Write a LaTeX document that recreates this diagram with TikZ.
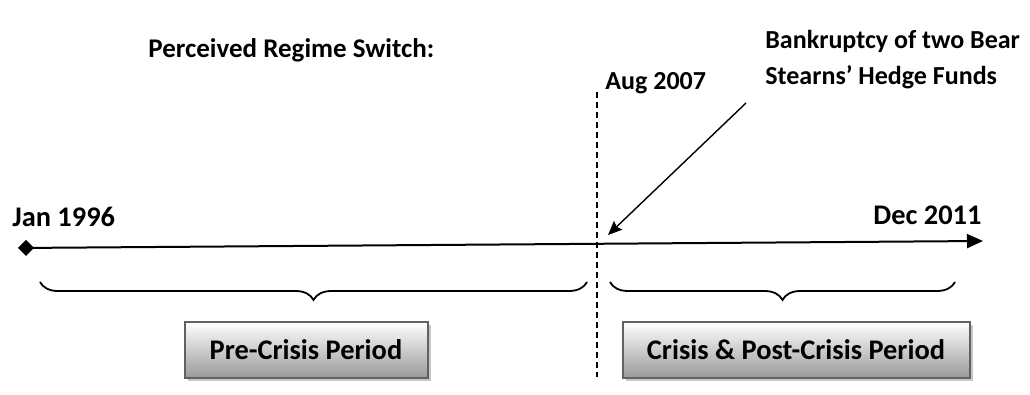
\documentclass[tikz,border=0pt]{standalone}
\usepackage{fontspec}
\setmainfont{Carlito}
\usetikzlibrary{arrows.meta,decorations.pathreplacing,shadows}

\begin{document}
\begin{tikzpicture}[x=0.5pt, y=-0.5pt,
  font=\bfseries\fontsize{13}{18}\selectfont,
  lbl/.style={inner sep=0pt, align=left, anchor=west},
  gross/.style={font=\bfseries\fontsize{14.2}{18}\selectfont},
  period/.style={gross, draw=black!62, line width=1pt, top color=white, bottom color=black!40,
                 minimum height=28pt, inner sep=0pt,
                 drop shadow={shadow xshift=1.6pt, shadow yshift=-1.6pt, fill=black!22, opacity=1}},
  zeitachse/.style={line width=1pt, {Diamond[length=8pt, width=8pt]}-{Triangle[length=8pt, width=7pt]}},
  schnitt/.style={line width=0.6pt, dash pattern=on 3pt off 2pt},
  pfeil/.style={-{Stealth[length=7pt, width=6pt, inset=1pt]}, line width=0.7pt},
  klammer/.style={decorate, decoration={brace, mirror, amplitude=9pt}, line width=0.9pt}]
\useasboundingbox (0,0) rectangle (1030,395);
% Beschriftungen
\node[lbl, font=\bfseries\fontsize{13.5}{18}\selectfont] (titel) at (148,50) {Perceived Regime Switch:};
\node[lbl] (aug) at (605,83) {Aug 2007};
\node[lbl] (bear) at (765,60) {Bankruptcy of two Bear\\Stearns' Hedge Funds};
\node[lbl, gross] (jan) at (12,217) {Jan 1996};
\node[lbl, gross] (dec) at (873,215) {Dec 2011};
% Zeitachse
\coordinate (t0) at (18,248);
\coordinate (t1) at (983,241);
\draw[zeitachse] (t0) -- (t1);
\coordinate (v0) at (597,92);
\coordinate (v1) at (597,377);
\draw[schnitt] (v0) -- (v1);
\coordinate (a0) at (746,103);
\coordinate (a1) at (608,235);
\draw[pfeil] (a0) -- (a1);
% Perioden
\draw[klammer] (40,282) -- (587,282);
\draw[klammer] (610,282) -- (955,282);
\node[period, minimum width=121.5pt] (vor) at (306,350) {Pre-Crisis Period};
\node[period, minimum width=173.5pt] (nach) at (796,350) {Crisis \& Post-Crisis Period};
\end{tikzpicture}
\end{document}
